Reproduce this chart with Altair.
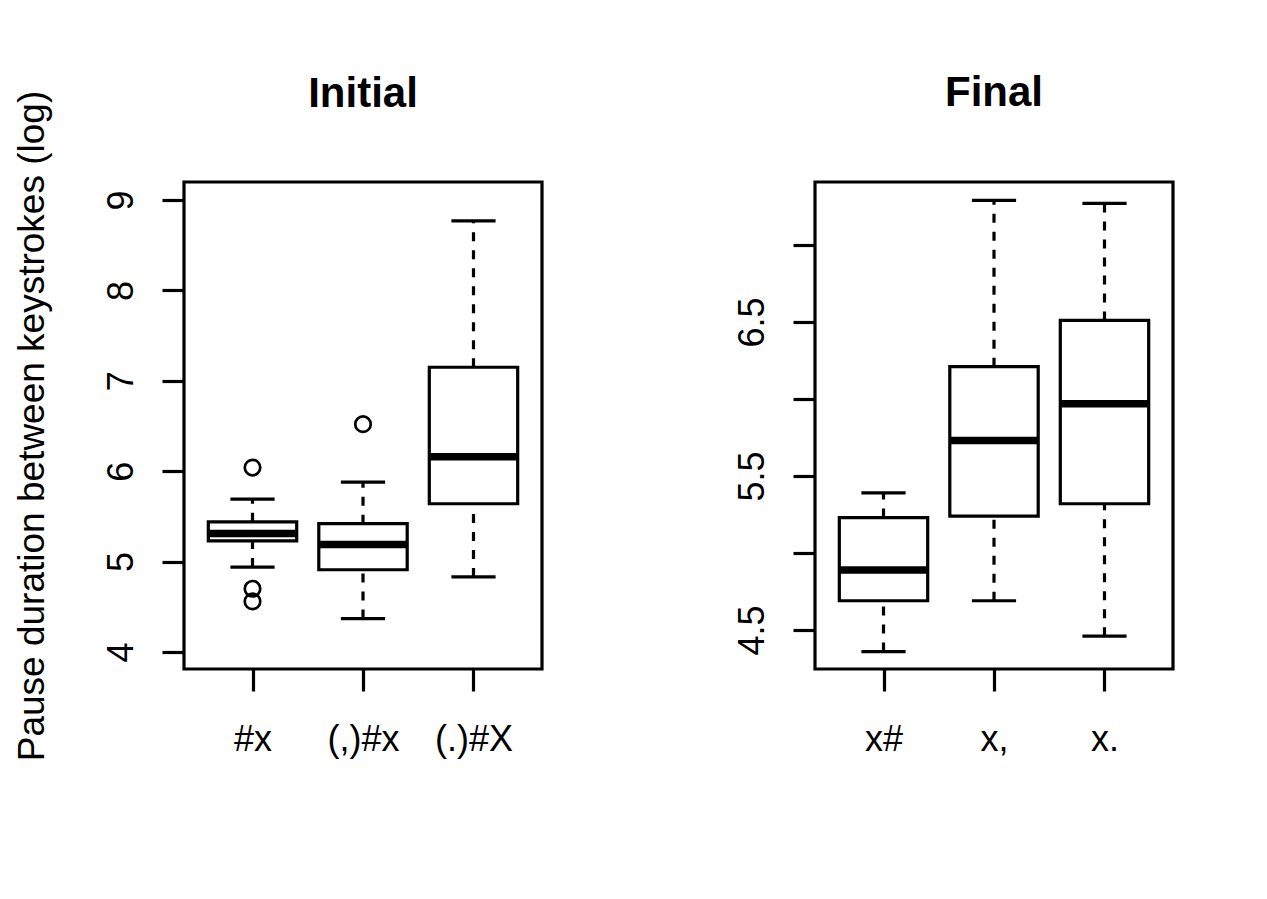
import altair as alt
import pandas as pd

# ---- data ----
cats_initial = ["#x", "(,)#x", "(.)#X"]
init_low = [4.94, 4.37, 4.83]
init_q1 = [5.23, 4.91, 5.64]
init_med = [5.31, 5.19, 6.16]
init_q3 = [5.44, 5.42, 7.15]
init_high = [5.69, 5.88, 8.77]
init_out_cat = ["#x", "#x", "#x", "(,)#x"]
init_out_val = [6.04, 4.70, 4.56, 6.52]

cats_final = ["x#", "x,", "x."]
fin_low = [4.36, 4.69, 4.46]
fin_q1 = [4.69, 5.24, 5.32]
fin_med = [4.89, 5.73, 5.97]
fin_q3 = [5.23, 6.21, 6.51]
fin_high = [5.39, 7.29, 7.27]
fin_out_cat = []
fin_out_val = []

left_ticks = [4, 5, 6, 7, 8, 9]
right_ticks = [4.5, 5.0, 5.5, 6.0, 6.5, 7.0]

FONT = "Liberation Sans"
LW = 3.2


def panel(title, cats, low, q1, med, q3, high, out_cat, out_val,
          ydomain, yticks, ylabelexpr, ytitle, title_offset):
    pos = list(range(1, len(cats) + 1))
    df = pd.DataFrame({"cat": cats, "pos": pos, "low": low, "q1": q1,
                       "med": med, "q3": q3, "high": high})
    lookup = {c: p for c, p in zip(cats, pos)}
    odf = pd.DataFrame({"cat": out_cat,
                        "pos": [lookup[c] for c in out_cat],
                        "val": out_val})

    label_expr = " : ".join(
        f"datum.value == {p} ? '{c}'" for c, p in zip(cats, pos)) + " : ''"

    xscale = alt.Scale(domain=[0.38, 3.62], nice=False, zero=False)
    yscale = alt.Scale(domain=ydomain, nice=False, zero=False)
    xaxis = alt.Axis(values=pos, labelExpr=label_expr, title=None,
                     labelPadding=31, labelFontSize=36, labelAngle=0)
    yaxis_kw = dict(values=yticks, labelExpr=ylabelexpr, labelAngle=270,
                    labelAlign="center", labelBaseline="bottom",
                    labelPadding=22, labelFontSize=36)
    if ytitle:
        yaxis = alt.Axis(title=ytitle, titleFontSize=37, titleFontWeight="normal",
                         titlePadding=60, titleBaseline="alphabetic",
                         titleFont=FONT, **yaxis_kw)
    else:
        yaxis = alt.Axis(title=None, **yaxis_kw)

    def X(f):
        return alt.X(f"{f}:Q", scale=xscale, axis=xaxis)

    def Y(f):
        return alt.Y(f"{f}:Q", scale=yscale, axis=yaxis)

    base = alt.Chart(df).transform_calculate(
        bl="datum.pos - 0.4", br="datum.pos + 0.4",
        cl="datum.pos - 0.2", cr="datum.pos + 0.2")

    w_lo = base.mark_rule(color="black", strokeWidth=LW, strokeDash=[9, 9]).encode(
        x=X("pos"), y=Y("low"), y2="q1:Q")
    w_hi = base.mark_rule(color="black", strokeWidth=LW, strokeDash=[9, 9]).encode(
        x=X("pos"), y=Y("q3"), y2="high:Q")
    c_lo = base.mark_rule(color="black", strokeWidth=LW, strokeCap="butt").encode(
        x=X("cl"), x2="cr:Q", y=Y("low"))
    c_hi = base.mark_rule(color="black", strokeWidth=LW, strokeCap="butt").encode(
        x=X("cl"), x2="cr:Q", y=Y("high"))
    box = base.mark_rect(fill="white", stroke="black", strokeWidth=LW).encode(
        x=X("bl"), x2="br:Q", y=Y("q1"), y2="q3:Q")
    medl = base.mark_rule(color="black", strokeWidth=7.5, strokeCap="butt").encode(
        x=X("bl"), x2="br:Q", y=Y("med"))
    layers = [w_lo, w_hi, c_lo, c_hi, box, medl]
    if len(odf):
        pts = alt.Chart(odf).mark_point(shape="circle", size=240, filled=False,
                                        color="black", strokeWidth=2.7,
                                        opacity=1).encode(
            x=X("pos"), y=Y("val"))
        layers.append(pts)

    return alt.layer(*layers).properties(
        width=358, height=487,
        title=alt.TitleParams(title, frame="group", anchor="middle",
                              fontSize=42, fontWeight="bold", font=FONT,
                              baseline="alphabetic", offset=title_offset,
                              color="black"))


left = panel("Initial", cats_initial, init_low, init_q1, init_med, init_q3,
             init_high, init_out_cat, init_out_val,
             [3.812, 9.199], left_ticks, "format(datum.value, 'd')",
             "Pause duration between keystrokes (log)", -59)
right = panel("Final", cats_final, fin_low, fin_q1, fin_med, fin_q3,
              fin_high, fin_out_cat, fin_out_val,
              [4.247, 7.409], right_ticks,
              "abs(datum.value % 1 - 0.5) < 0.01 ? format(datum.value, '.1f') : ''",
              None, 34)

chart = alt.hconcat(left, right, spacing=188).properties(
    padding={"left": 3, "top": 62, "right": 10, "bottom": 10},
    background="white",
).configure_view(
    stroke="black", strokeWidth=LW
).configure_axis(
    domain=False, grid=False, tickColor="black", tickWidth=LW, tickSize=22,
    labelColor="black", titleColor="black", labelFont=FONT, titleFont=FONT,
)

chart.save("out.html", embed_options={"renderer": "svg", "actions": False})
